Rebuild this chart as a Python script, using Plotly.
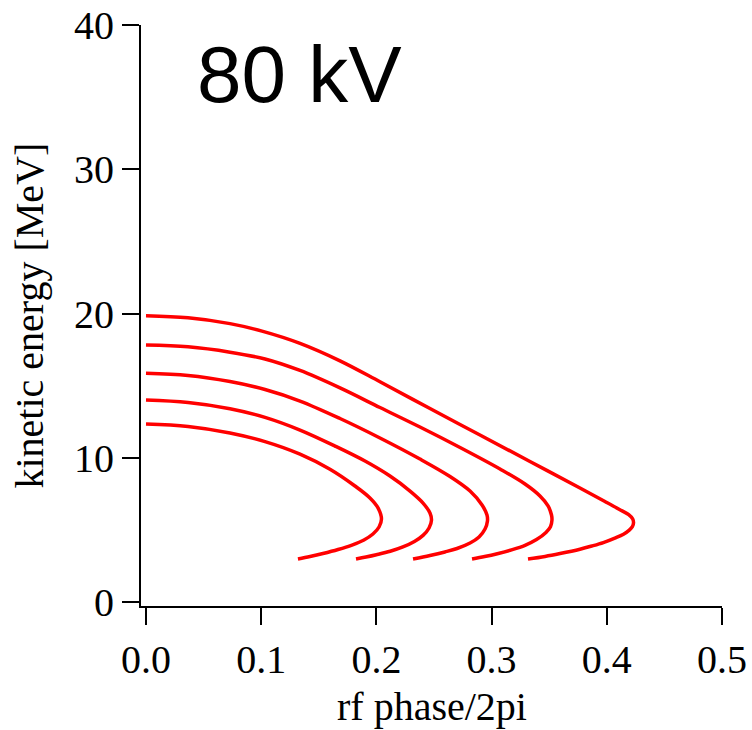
import plotly.graph_objects as go

# rf phase / 2pi and kinetic energy [MeV] for each of the five trajectories
phase_1 = [0.000, 0.0365, 0.0729, 0.1007, 0.1337, 0.1684, 0.2031, 0.2465, 0.2899, 0.3333, 0.3767,
           0.3984, 0.4110, 0.4190, 0.4225, 0.4232, 0.4222, 0.4195, 0.4145, 0.4070, 0.3970, 0.3870,
           0.3767, 0.3594, 0.3464, 0.3316]
energy_1 = [19.85, 19.70, 19.30, 18.78, 17.93, 16.72, 15.27, 13.41, 11.58, 9.74, 7.90,
            6.97, 6.42, 6.05, 5.75, 5.50, 5.22, 4.98, 4.70, 4.43, 4.12, 3.88,
            3.66, 3.36, 3.16, 2.98]

phase_2 = [0.000, 0.0365, 0.0729, 0.1033, 0.1337, 0.1684, 0.2031, 0.2378, 0.2726, 0.3073, 0.3290,
           0.3420, 0.3490, 0.3520, 0.3524, 0.3511, 0.3472, 0.3390, 0.3290, 0.3180, 0.3050, 0.2940, 0.2830]
energy_2 = [17.82, 17.69, 17.32, 16.85, 16.05, 14.84, 13.48, 12.13, 10.71, 9.22, 8.18,
            7.35, 6.66, 6.03, 5.68, 5.22, 4.82, 4.33, 3.93, 3.63, 3.35, 3.15, 2.98]

phase_3 = [0.000, 0.0365, 0.0729, 0.1033, 0.1337, 0.1684, 0.2031, 0.2378, 0.2639, 0.2813,
           0.2917, 0.2960, 0.2964, 0.2943, 0.2891, 0.2813, 0.2700, 0.2595, 0.2465, 0.2318]
energy_3 = [15.85, 15.70, 15.28, 14.73, 13.93, 12.72, 11.37, 9.91, 8.70, 7.69,
            6.72, 6.03, 5.62, 5.06, 4.51, 4.09, 3.71, 3.47, 3.22, 2.98]

phase_4 = [0.000, 0.0365, 0.0729, 0.1033, 0.1337, 0.1641, 0.1901, 0.2118, 0.2292, 0.2405,
           0.2465, 0.2478, 0.2457, 0.2405, 0.2330, 0.2230, 0.2120, 0.2000, 0.1910, 0.1823]
energy_4 = [14.00, 13.83, 13.40, 12.80, 11.92, 10.81, 9.77, 8.73, 7.69, 6.86,
            6.17, 5.68, 5.13, 4.62, 4.20, 3.82, 3.52, 3.28, 3.12, 2.98]

phase_5 = [0.000, 0.0365, 0.0729, 0.1033, 0.1337, 0.1597, 0.1814, 0.1944, 0.2014,
           0.2044, 0.2023, 0.1970, 0.1892, 0.1788, 0.1667, 0.1536, 0.1424, 0.1319]
energy_5 = [12.34, 12.17, 11.72, 11.12, 10.25, 9.20, 8.04, 7.21, 6.52,
            5.75, 5.20, 4.71, 4.30, 3.95, 3.64, 3.36, 3.15, 2.98]

x_ticks = [0.0, 0.1, 0.2, 0.3, 0.4, 0.5]
x_tick_text = ["0.0", "0.1", "0.2", "0.3", "0.4", "0.5"]
y_ticks = [0, 10, 20, 30, 40]
y_tick_text = ["0", "10", "20", "30", "40"]

title_text = "80 kV"
x_title = "rf phase/2pi"
y_title = "kinetic energy [MeV]"

curves = [(phase_1, energy_1), (phase_2, energy_2), (phase_3, energy_3),
          (phase_4, energy_4), (phase_5, energy_5)]

fig = go.Figure()
for px, ey in curves:
    fig.add_trace(go.Scatter(
        x=px, y=ey, mode="lines",
        line=dict(color="#ff0000", width=3.5, shape="spline", smoothing=1.0),
        showlegend=False, hoverinfo="skip",
    ))

serif = "Liberation Serif, Times New Roman, serif"
axis_common = dict(
    showline=True, linecolor="black", linewidth=2,
    ticks="outside", ticklen=17, tickwidth=2, tickcolor="black",
    showgrid=False, zeroline=False, automargin=False,
    tickfont=dict(family=serif, size=40, color="black"),
)

fig.update_layout(
    width=752, height=730,
    margin=dict(l=141, r=30, t=25, b=124, autoexpand=False),
    paper_bgcolor="white", plot_bgcolor="white",
    xaxis=dict(range=[-0.00434, 0.5], tickvals=x_ticks, ticktext=x_tick_text, **axis_common),
    yaxis=dict(range=[-0.277, 40], tickvals=y_ticks, ticktext=y_tick_text, **axis_common),
    annotations=[
        dict(text=title_text, xref="paper", yref="paper", x=0.093, y=0.914,
             xanchor="left", yanchor="middle", showarrow=False,
             font=dict(family="Liberation Sans, Arial, sans-serif", size=80, color="black")),
        dict(text=x_title, xref="paper", yref="paper", x=0.5, y=0, yshift=-100,
             xanchor="center", yanchor="middle", showarrow=False,
             font=dict(family=serif, size=40, color="black")),
        dict(text=y_title, xref="paper", yref="paper", x=0, y=0.5, xshift=-112,
             xanchor="center", yanchor="middle", showarrow=False, textangle=-90,
             font=dict(family=serif, size=40, color="black")),
    ],
)

fig.write_html(
    "out.html",
    config={"displayModeBar": False},
    post_script="document.body.style.margin='0px'; document.body.style.overflow='hidden';",
)
